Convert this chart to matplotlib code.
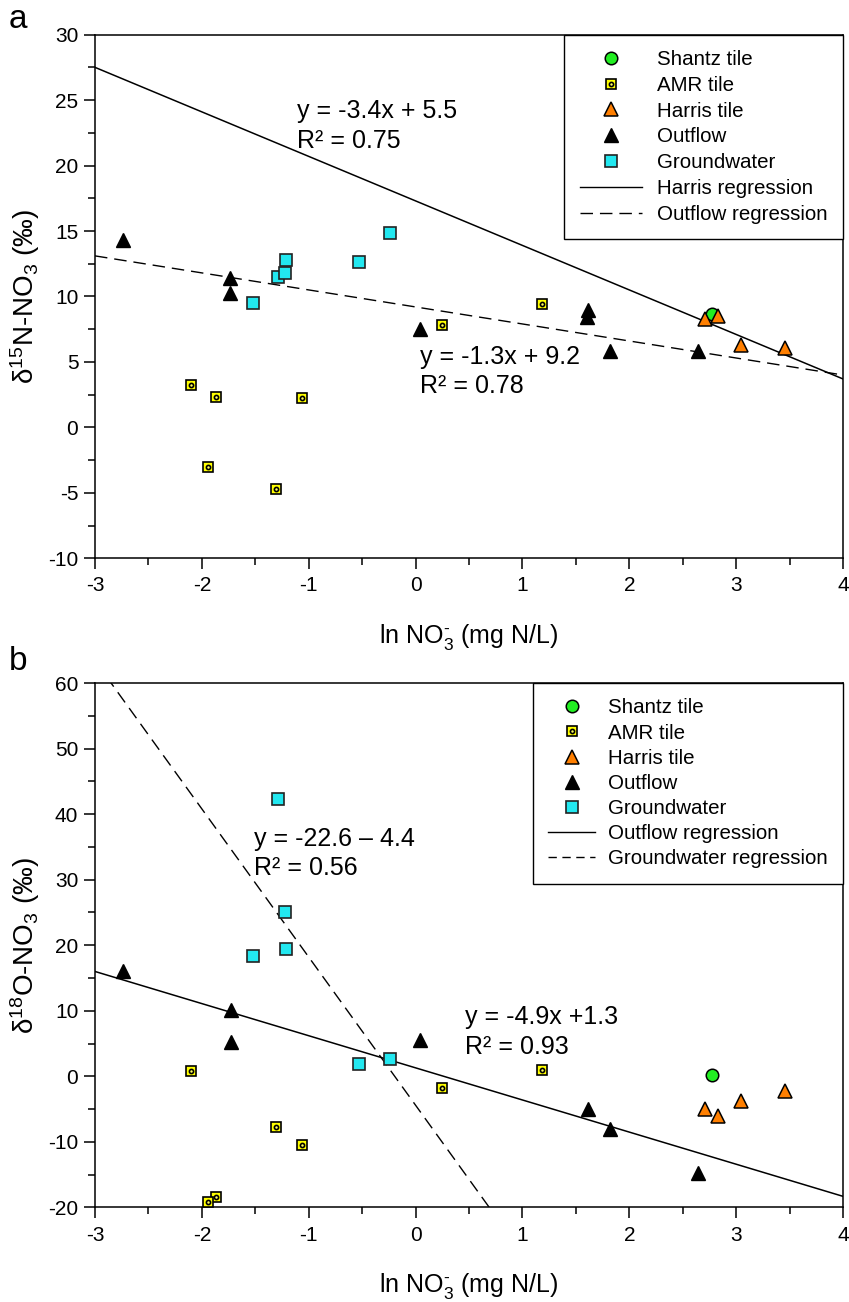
import numpy as np
import matplotlib
matplotlib.use("Agg")
import matplotlib.pyplot as plt
from matplotlib.lines import Line2D
from matplotlib.ticker import MultipleLocator

plt.rcParams["font.family"] = ["Liberation Sans", "DejaVu Sans"]
plt.rcParams["mathtext.fontset"] = "custom"
plt.rcParams["mathtext.rm"] = "Liberation Sans"
plt.rcParams["mathtext.it"] = "Liberation Sans:italic"
plt.rcParams["axes.unicode_minus"] = False

# ---- data: ln NO3- (mg N/L) and isotope values (permil) ----
ln_shantz = [2.77]
d15n_shantz = [8.65]
d18o_shantz = [0.2]

ln_amr = [-2.10, -1.87, -1.94, -1.31, -1.06, 0.25, 1.18]
d15n_amr = [3.25, 2.35, -3.0, -4.7, 2.25, 7.8, 9.4]
d18o_amr = [0.8, -18.4, -19.2, -7.8, -10.4, -1.7, 0.9]

ln_harris = [2.71, 2.83, 3.05, 3.46]
d15n_harris = [8.3, 8.5, 6.3, 6.05]
d18o_harris = [-5.0, -6.0, -3.7, -2.3]

ln_outflow_n = [-2.74, -1.74, -1.74, 0.04, 1.61, 1.60, 1.82, 2.64]
d15n_outflow = [14.3, 11.4, 10.25, 7.5, 9.0, 8.4, 5.8, 5.85]
ln_outflow_o = [-2.74, -1.73, -1.73, 0.04, 1.61, 1.82, 2.64]
d18o_outflow = [16.0, 10.1, 5.2, 5.6, -5.0, -8.0, -14.8]

ln_gw = [-1.52, -1.285, -1.22, -1.21, -0.53, -0.24]
d15n_gw = [9.5, 11.45, 11.8, 12.75, 12.6, 14.85]
d18o_gw = [18.4, 42.3, 25.1, 19.4, 1.9, 2.7]

# regression lines (slope, intercept)
harris_fit_n = (-3.4, 17.3)
outflow_fit_n = (-1.3, 9.2)
outflow_fit_o = (-4.9, 1.3)
gw_fit_o = (-22.6, -4.4)

eq_labels_a = ["y = -3.4x + 5.5\nR² = 0.75", "y = -1.3x + 9.2\nR² = 0.78"]
eq_labels_b = ["y = -22.6 – 4.4\nR² = 0.56", "y = -4.9x +1.3\nR² = 0.93"]

# ---- marker styles ----
sty_shantz = dict(marker="o", ms=9, mfc="#22ee22", mec="black", mew=1.1, ls="none")
sty_amr = dict(marker="s", ms=7.5, mfc="#ffff00", mec="black", mew=1.2, ls="none")
sty_amr_dot = dict(marker="o", ms=3.0, mfc="#ffff60", mec="black", mew=1.2, ls="none")
sty_harris = dict(marker="^", ms=9.5, mfc="#ff7f00", mec="black", mew=1.1, ls="none")
sty_outflow = dict(marker="^", ms=9.5, mfc="black", mec="black", mew=1.0, ls="none")
sty_gw = dict(marker="s", ms=8.5, mfc="#22e8f0", mec="#222222", mew=1.2, ls="none")

DASH = (9, 5)
EQ_FONT = 18
XLABEL = "ln NO$_3^{\u2010}$ (mg N/L)"


def scatter_all(ax, ys_shantz, ys_amr, ys_harris, x_out, ys_out, ys_gw):
    ax.plot(ln_shantz, ys_shantz, zorder=4, **sty_shantz)
    ax.plot(ln_amr, ys_amr, zorder=4, **sty_amr)
    ax.plot(ln_amr, ys_amr, zorder=5, **sty_amr_dot)
    ax.plot(ln_harris, ys_harris, zorder=5, **sty_harris)
    ax.plot(x_out, ys_out, zorder=5, **sty_outflow)
    ax.plot(ln_gw, ys_gw, zorder=5, **sty_gw)


def style_axes(ax, ylim, ystep, ylabel):
    ax.set_xlim(-3, 4)
    ax.set_ylim(*ylim)
    ax.xaxis.set_major_locator(MultipleLocator(1))
    ax.xaxis.set_minor_locator(MultipleLocator(0.5))
    ax.yaxis.set_major_locator(MultipleLocator(ystep))
    ax.yaxis.set_minor_locator(MultipleLocator(ystep / 2))
    ax.tick_params(which="both", direction="out", width=1.1, top=False, right=False)
    ax.tick_params(which="major", length=8)
    ax.tick_params(which="minor", length=5)
    ax.tick_params(axis="x", which="major", labelsize=15, pad=5)
    ax.tick_params(axis="y", which="major", labelsize=15, pad=4)
    for sp in ax.spines.values():
        sp.set_linewidth(1.1)
    ax.set_xlabel(XLABEL, fontsize=18, va="center")
    ax.xaxis.set_label_coords(0.5, -0.150)
    ax.set_ylabel(ylabel, fontsize=20, va="center")
    ax.yaxis.set_label_coords(-0.094, 0.5)


def legend_handles(line_names, line_styles):
    h = [
        Line2D([], [], **sty_shantz),
        (Line2D([], [], **sty_amr), Line2D([], [], **sty_amr_dot)),
        Line2D([], [], **sty_harris),
        Line2D([], [], **sty_outflow),
        Line2D([], [], **sty_gw),
    ]
    for ls in line_styles:
        h.append(Line2D([], [], color="black", lw=1.0, **ls))
    labels = ["Shantz tile", "AMR tile", "Harris tile", "Outflow", "Groundwater"] + line_names
    return h, labels


fig = plt.figure(figsize=(8.49, 13.02), dpi=100)
ax_a = fig.add_axes([0.1119, 0.5712, 0.8810, 0.4022])
ax_b = fig.add_axes([0.1119, 0.0726, 0.8810, 0.4028])

# ---------------- panel a: d15N ----------------
xs = np.array([-3.0, 4.0])
ax_a.plot(xs, harris_fit_n[0] * xs + harris_fit_n[1], color="black", lw=1.1, zorder=3)
ax_a.plot(xs, outflow_fit_n[0] * xs + outflow_fit_n[1], color="black", lw=1.0,
          dashes=DASH, zorder=3)
scatter_all(ax_a, d15n_shantz, d15n_amr, d15n_harris, ln_outflow_n, d15n_outflow, d15n_gw)
style_axes(ax_a, (-10, 30), 5, "δ$^{15}$N-NO$_3$ (‰)")
ax_a.text(-1.11, 23.0, eq_labels_a[0], fontsize=EQ_FONT, va="center", ha="left", linespacing=1.3)
ax_a.text(0.04, 4.27, eq_labels_a[1], fontsize=EQ_FONT, va="center", ha="left", linespacing=1.3)
h, lab = legend_handles(["Harris regression", "Outflow regression"],
                        [dict(ls="-"), dict(dashes=DASH)])
leg = ax_a.legend(h, lab, loc="upper right", bbox_to_anchor=(1, 1), borderaxespad=0,
                  fancybox=False, edgecolor="black", framealpha=1, fontsize=14.8,
                  handlelength=3.0, handletextpad=0.75, labelspacing=0.33, borderpad=0.75)
leg.get_frame().set_linewidth(1.0)

# ---------------- panel b: d18O ----------------
ax_b.plot(xs, outflow_fit_o[0] * xs + outflow_fit_o[1], color="black", lw=1.1, zorder=3)
ax_b.plot(xs, gw_fit_o[0] * xs + gw_fit_o[1], color="black", lw=1.0, dashes=DASH, zorder=3)
scatter_all(ax_b, d18o_shantz, d18o_amr, d18o_harris, ln_outflow_o, d18o_outflow, d18o_gw)
style_axes(ax_b, (-20, 60), 10, "δ$^{18}$O-NO$_3$ (‰)")
ax_b.text(-1.51, 34.0, eq_labels_b[0], fontsize=EQ_FONT, va="center", ha="left", linespacing=1.3)
ax_b.text(0.46, 6.78, eq_labels_b[1], fontsize=EQ_FONT, va="center", ha="left", linespacing=1.3)
h, lab = legend_handles(["Outflow regression", "Groundwater regression"],
                        [dict(ls="-"), dict(dashes=(6, 4))])
leg = ax_b.legend(h, lab, loc="upper right", bbox_to_anchor=(1, 1), borderaxespad=0,
                  fancybox=False, edgecolor="black", framealpha=1, fontsize=14.8,
                  handlelength=2.3, handletextpad=0.6, labelspacing=0.3, borderpad=0.75)
leg.get_frame().set_linewidth(1.0)

fig.text(18 / 849, 1 - 20 / 1302, "a", fontsize=24, ha="center", va="center")
fig.text(18 / 849, 1 - 662 / 1302, "b", fontsize=24, ha="center", va="center")

fig.savefig("out.png", dpi=100)
